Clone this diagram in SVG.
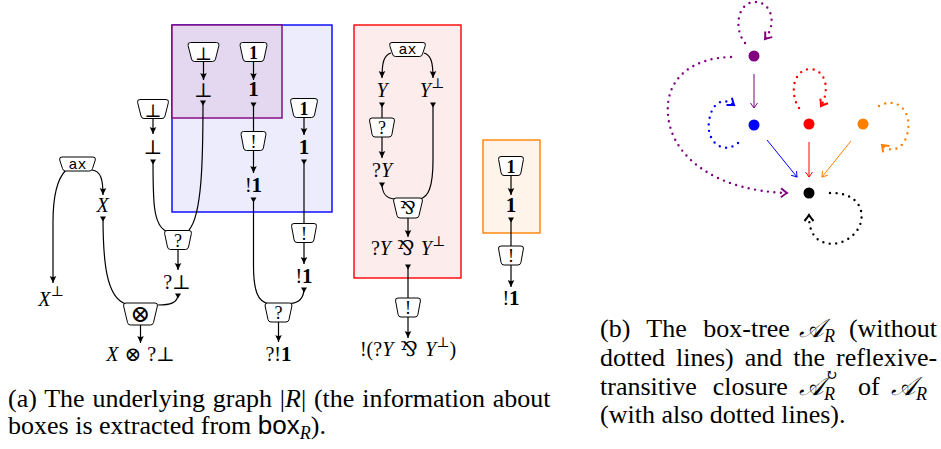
<svg xmlns="http://www.w3.org/2000/svg" width="941" height="449" viewBox="0 0 941 449">
<style>
.e{fill:none;stroke:#000;stroke-width:1.2}
.a{marker-end:url(#ah)}
.s{marker-start:url(#st)}
.nd{fill:#fff;stroke:#000;stroke-width:1}
.nt{font-family:"Liberation Serif","DejaVu Serif",serif;font-size:18px;text-anchor:middle}
.lb{font-family:"Liberation Serif","DejaVu Serif",serif;font-size:20px;text-anchor:middle}
.it{font-style:italic}
.bf{font-weight:bold}
.b1{font-weight:bold;font-size:21px}
.sp{font-size:14px}
.mono{font-family:"Liberation Mono","DejaVu Sans Mono",monospace;font-size:15px}
.cap{font-family:"Liberation Serif","DejaVu Serif",serif;font-size:26px}
.sub{font-family:"Liberation Serif","DejaVu Serif",serif;font-size:18px;font-style:italic}
.dt{fill:none;stroke-width:2.4;stroke-linecap:round;stroke-dasharray:0 6.5}
.tl{fill:none;stroke-width:1}
</style>
<defs>
<marker id="ah" viewBox="-8 -5 9 10" refX="0" refY="0" markerWidth="9" markerHeight="10" markerUnits="userSpaceOnUse" orient="auto"><path d="M0,0 L-7,-3.3 Q-5,0 -7,3.3 Z" fill="#000"/></marker>
<marker id="st" viewBox="-2 -4 8 8" refX="0" refY="0" markerWidth="8" markerHeight="8" markerUnits="userSpaceOnUse" orient="auto"><path d="M-0.5,-3 L4.5,0 L-0.5,3 Z" fill="#000"/></marker>
<marker id="vp" viewBox="-7 -5 8 10" refX="0" refY="0" markerWidth="8" markerHeight="10" markerUnits="userSpaceOnUse" orient="auto"><path d="M-5,-3.5 Q-1.5,-1 0,0 Q-1.5,1 -5,3.5" fill="none" stroke="#800080" stroke-width="1"/></marker>
<marker id="vb" viewBox="-7 -5 8 10" refX="0" refY="0" markerWidth="8" markerHeight="10" markerUnits="userSpaceOnUse" orient="auto"><path d="M-5,-3.5 Q-1.5,-1 0,0 Q-1.5,1 -5,3.5" fill="none" stroke="#0000ff" stroke-width="1"/></marker>
<marker id="vr" viewBox="-7 -5 8 10" refX="0" refY="0" markerWidth="8" markerHeight="10" markerUnits="userSpaceOnUse" orient="auto"><path d="M-5,-3.5 Q-1.5,-1 0,0 Q-1.5,1 -5,3.5" fill="none" stroke="#ff0000" stroke-width="1"/></marker>
<marker id="vo" viewBox="-7 -5 8 10" refX="0" refY="0" markerWidth="8" markerHeight="10" markerUnits="userSpaceOnUse" orient="auto"><path d="M-5,-3.5 Q-1.5,-1 0,0 Q-1.5,1 -5,3.5" fill="none" stroke="#ff8000" stroke-width="1"/></marker>
<marker id="VP" viewBox="-9 -6 11 12" refX="0" refY="0" markerWidth="11" markerHeight="12" markerUnits="userSpaceOnUse" orient="auto"><path d="M-6,-4.5 Q-2,-1.2 0,0 Q-2,1.2 -6,4.5" fill="none" stroke="#800080" stroke-width="2"/></marker>
<marker id="VB" viewBox="-9 -6 11 12" refX="0" refY="0" markerWidth="11" markerHeight="12" markerUnits="userSpaceOnUse" orient="auto"><path d="M-6,-4.5 Q-2,-1.2 0,0 Q-2,1.2 -6,4.5" fill="none" stroke="#0000ff" stroke-width="2"/></marker>
<marker id="VR" viewBox="-9 -6 11 12" refX="0" refY="0" markerWidth="11" markerHeight="12" markerUnits="userSpaceOnUse" orient="auto"><path d="M-6,-4.5 Q-2,-1.2 0,0 Q-2,1.2 -6,4.5" fill="none" stroke="#ff0000" stroke-width="2"/></marker>
<marker id="VO" viewBox="-9 -6 11 12" refX="0" refY="0" markerWidth="11" markerHeight="12" markerUnits="userSpaceOnUse" orient="auto"><path d="M-6,-4.5 Q-2,-1.2 0,0 Q-2,1.2 -6,4.5" fill="none" stroke="#ff8000" stroke-width="2"/></marker>
<marker id="VK" viewBox="-9 -6 11 12" refX="0" refY="0" markerWidth="11" markerHeight="12" markerUnits="userSpaceOnUse" orient="auto"><path d="M-6,-4.5 Q-2,-1.2 0,0 Q-2,1.2 -6,4.5" fill="none" stroke="#000" stroke-width="2"/></marker>
<path id="nS" class="nd" d="M -10,-9.5 H 10 Q 13,-9.5 12.4,-6.5 L 9.9,7 Q 9.5,9.5 7,9.5 H -7 Q -9.5,9.5 -9.9,7 L -12.4,-6.5 Q -13,-9.5 -10,-9.5 Z"/>
<path id="nM" class="nd" d="M -11,-9.5 H 11 Q 14,-9.5 13.4,-6.5 L 10.5,7 Q 10,9.5 7.5,9.5 H -7.5 Q -10,9.5 -10.5,7 L -13.4,-6.5 Q -14,-9.5 -11,-9.5 Z"/>
<path id="nL" class="nd" d="M -13,-9.5 H 13 Q 16,-9.5 15.4,-6.5 L 12,7 Q 11.5,9.5 9,9.5 H -9 Q -11.5,9.5 -12,7 L -15.4,-6.5 Q -16,-9.5 -13,-9.5 Z"/>
<path id="nAx" class="nd" d="M -15.5,-7 H 15.5 Q 18.5,-7 17.8,-4 L 15,4.5 Q 14.5,7 12,7 H -12 Q -14.5,7 -15,4.5 L -17.8,-4 Q -18.5,-7 -15.5,-7 Z"/>
<path id="nT" class="nd" d="M -14.5,-11 H 14.5 Q 17.5,-11 16.9,-8 L 13,8.5 Q 12.5,11 10,11 H -10 Q -12.5,11 -13,8.5 L -16.9,-8 Q -17.5,-11 -14.5,-11 Z"/>
<path id="nP" class="nd" d="M -12,-10 H 12 Q 15,-10 14.4,-7 L 11,7.5 Q 10.5,10 8,10 H -8 Q -10.5,10 -11,7.5 L -14.4,-7 Q -15,-10 -12,-10 Z"/>
</defs>
<rect width="941" height="449" fill="#fff"/>

<!-- boxes -->
<g id="boxes">
<rect x="172" y="25" width="160" height="187" fill="#ececfc" stroke="#0000ff" stroke-width="1.4"/>
<rect x="172" y="25" width="110" height="93" fill="#e3d8f0" stroke="#800080" stroke-width="1.4"/>
<rect x="354" y="25" width="107" height="253" fill="#fdecec" stroke="#ff0000" stroke-width="1.4"/>
<rect x="483" y="140" width="57" height="93" fill="#fff4e9" stroke="#ff8000" stroke-width="1.4"/>
</g>

<!-- connectors -->
<g id="connectors">
<path class="e a" d="M 66,170 C 56,180 53,200 53,222 L 53,283"/>
<path class="e a" d="M 92,170 C 101,171 103,180 103,195"/>
<path class="e s" d="M 103,217 C 103,260 106,298 126,304"/>
<path class="e s" d="M 178,294 C 178,303 170,305 158,305"/>
<path class="e a" d="M 140.5,325 L 140.5,343"/>
<path class="e a" d="M 153,118.5 L 153,134"/>
<path class="e s" d="M 153,160 C 153,200 153,225 166,231"/>
<path class="e s" d="M 203,101 C 203,160 202,215 189,230"/>
<path class="e a" d="M 178,249.5 L 178,270"/>
<path class="e a" d="M 203.5,61.5 L 203.5,80"/>
<path class="e a" d="M 253.5,61.5 L 253.5,80"/>
<path class="e s" d="M 253.5,103 L 253.5,131.5"/>
<path class="e a" d="M 253.5,150.5 L 253.5,173"/>
<path class="e s" d="M 253.5,198 L 253.5,265 C 253.5,292 258,301 268,303.5"/>
<path class="e a" d="M 304,117.5 L 304,135"/>
<path class="e s" d="M 304,160 L 304,223.5"/>
<path class="e a" d="M 304,242.5 L 304,264"/>
<path class="e s" d="M 304,288 C 304,298 299,303 290,303.5"/>
<path class="e a" d="M 278.5,322 L 278.5,342"/>
<path class="e a" d="M 391,53 C 384,55 382,62 382,78"/>
<path class="e a" d="M 424,53 C 431,55 433,62 433,78"/>
<path class="e s" d="M 382,103 L 382,118"/>
<path class="e a" d="M 382,137 L 382,158"/>
<path class="e s" d="M 382,183 C 382,194 386,199 396,199"/>
<path class="e s" d="M 433,103 L 433,160 C 433,188 428,197 420,199"/>
<path class="e a" d="M 408,218 L 408,237"/>
<path class="e s" d="M 408,265 L 408,298"/>
<path class="e a" d="M 408,317 L 408,338"/>
<path class="e a" d="M 511,175.5 L 511,195"/>
<path class="e s" d="M 511,218 L 511,246.5"/>
<path class="e a" d="M 511,265 L 511,287"/>
<!-- box tree -->
<path class="tl" stroke="#800080" marker-end="url(#vp)" d="M 754,74 L 754,108"/>
<path class="tl" stroke="#0000ff" marker-end="url(#vb)" d="M 767,140 L 797,177"/>
<path class="tl" stroke="#ff0000" marker-end="url(#vr)" d="M 809,142 L 809,177"/>
<path class="tl" stroke="#ff8000" marker-end="url(#vo)" d="M 851,141 L 822,177"/>
<path class="dt" stroke="#800080" marker-end="url(#VP)" d="M 745,43 C 733,28 738,2 755,2 C 772,2 777,24 765,39"/>
<path class="dt" stroke="#800080" marker-end="url(#VP)" d="M 731,57 C 690,58 665,80 668,115 C 672,160 720,191 787,193"/>
<path class="dt" stroke="#0000ff" marker-end="url(#VB)" d="M 738,143 C 722,156 706,140 709,122 C 711,104 722,96 734,105"/>
<path class="dt" stroke="#ff0000" marker-end="url(#VR)" d="M 799,108 C 790,95 792,70 810,69 C 828,70 829,93 821,106"/>
<path class="dt" stroke="#ff8000" marker-end="url(#VO)" d="M 879,106 C 900,95 913,115 907,135 C 903,150 890,153 882,145"/>
<path class="dt" stroke="#000" marker-end="url(#VK)" d="M 830,193 C 855,192 866,208 860,225 C 853,242 830,250 816,238 C 811,232 809,226 809,215"/>
</g>

<!-- proof-net nodes -->
<g id="n-ax1"><use href="#nAx" x="77.5" y="164"/><text class="mono" x="77.5" y="168.5" text-anchor="middle">ax</text></g>
<g id="n-tensor"><use href="#nT" x="140.5" y="314"/><text class="nt" x="140.5" y="322" style="font-size:24px">⊗</text></g>
<g id="n-why1"><use href="#nM" x="178" y="240"/><text class="nt" x="178" y="246.5">?</text></g>
<g id="n-botL"><use href="#nL" x="153" y="109"/><text class="nt" x="153" y="116.5">⊥</text></g>
<g id="n-botIn"><use href="#nL" x="203.5" y="52"/><text class="nt" x="203.5" y="59.5">⊥</text></g>
<g id="n-oneIn"><use href="#nM" x="253.5" y="52"/><text class="nt bf" x="253.5" y="58.5">1</text></g>
<g id="n-bangIn"><use href="#nS" x="253.5" y="141"/><text class="nt" x="253.5" y="147.5">!</text></g>
<g id="n-oneR"><use href="#nM" x="304" y="108"/><text class="nt bf" x="304" y="114.5">1</text></g>
<g id="n-bangR"><use href="#nS" x="304" y="233"/><text class="nt" x="304" y="239.5">!</text></g>
<g id="n-why2"><use href="#nM" x="278.5" y="312.5"/><text class="nt" x="278.5" y="319">?</text></g>
<g id="n-ax2"><use href="#nAx" x="407.5" y="49.5"/><text class="mono" x="407.5" y="54" text-anchor="middle">ax</text></g>
<g id="n-why3"><use href="#nS" x="382" y="127.5"/><text class="nt" x="382" y="134">?</text></g>
<g id="n-par"><use href="#nP" x="408" y="208"/><text class="nt" x="408" y="214">⅋</text></g>
<g id="n-bang3"><use href="#nS" x="408" y="307.5"/><text class="nt" x="408" y="314">!</text></g>
<g id="n-oneO"><use href="#nS" x="511" y="166"/><text class="nt bf" x="511" y="172.5">1</text></g>
<g id="n-bangO"><use href="#nS" x="511" y="255.5"/><text class="nt" x="511" y="262">!</text></g>

<!-- formula labels -->
<g id="labels">
<text class="lb" x="51" y="306"><tspan class="it">X</tspan><tspan class="sp" dy="-10">⊥</tspan></text>
<text class="lb it" x="102.5" y="212">X</text>
<text class="lb" x="177" y="289">?⊥</text>
<text class="lb" x="140.5" y="361"><tspan class="it">X</tspan><tspan dx="6">⊗</tspan><tspan dx="6">?⊥</tspan></text>
<text class="lb" x="153" y="154">⊥</text>
<text class="lb" x="203.5" y="97">⊥</text>
<text class="lb b1" x="253.5" y="96">1</text>
<text class="lb" x="253.5" y="192">!<tspan class="b1">1</tspan></text>
<text class="lb b1" x="304" y="154">1</text>
<text class="lb" x="304" y="283">!<tspan class="b1">1</tspan></text>
<text class="lb" x="278.5" y="361">?!<tspan class="b1">1</tspan></text>
<text class="lb it" x="382" y="97">Y</text>
<text class="lb" x="432" y="97"><tspan class="it">Y</tspan><tspan class="sp" dy="-9">⊥</tspan></text>
<text class="lb" x="382" y="177">?<tspan class="it">Y</tspan></text>
<text class="lb" x="408" y="255">?<tspan class="it">Y</tspan><tspan dx="6">⅋</tspan><tspan class="it" dx="6">Y</tspan><tspan class="sp" dy="-9">⊥</tspan></text>
<text class="lb" x="408" y="356">!(?<tspan class="it">Y</tspan><tspan dx="7">⅋</tspan><tspan class="it" dx="7">Y</tspan><tspan class="sp" dy="-9">⊥</tspan><tspan dy="9">)</tspan></text>
<text class="lb b1" x="511" y="212">1</text>
<text class="lb" x="511" y="305">!<tspan class="b1">1</tspan></text>
</g>

<!-- box tree dots -->
<g id="t-purple"><circle cx="754" cy="56" r="5.5" fill="#800080"/></g>
<g id="t-blue"><circle cx="754" cy="125" r="5.5" fill="#0000ff"/></g>
<g id="t-red"><circle cx="809" cy="124" r="5.5" fill="#ff0000"/></g>
<g id="t-orange"><circle cx="863" cy="124" r="5.5" fill="#ff8000"/></g>
<g id="t-black"><circle cx="809" cy="193" r="5.5" fill="#000"/></g>

<!-- captions -->
<g id="caption-a">
<text class="cap" x="8" y="407" word-spacing="1.3">(a) The underlying graph |<tspan class="it">R</tspan>| (the information about</text>
<text class="cap" x="8" y="434">boxes is extracted from <tspan font-family="Liberation Sans">box</tspan><tspan class="sub" dy="5">R</tspan><tspan dy="-5">).</tspan></text>
</g>
<g id="caption-b">
<text class="cap" x="600" y="337" word-spacing="10">(b) The box-tree</text>
<text class="cap it" x="799" y="337">𝒜</text>
<text class="sub" x="824" y="342">R</text>
<text class="cap" x="937" y="337" text-anchor="end">(without</text>
<text class="cap" x="600" y="366" word-spacing="4.5">dotted lines) and the reflexive-</text>
<text class="cap" x="600" y="395" word-spacing="9.5">transitive closure</text>
<text class="cap it" x="799" y="395">𝒜</text>
<text class="sub" x="824" y="400">R</text>
<text class="cap" x="825" y="380" style="font-size:15px">↻</text>
<text class="cap" x="858" y="395">of</text>
<text class="cap it" x="891" y="395">𝒜</text>
<text class="sub" x="916" y="400">R</text>
<text class="cap" x="600" y="423">(with also dotted lines).</text>
</g>
</svg>
